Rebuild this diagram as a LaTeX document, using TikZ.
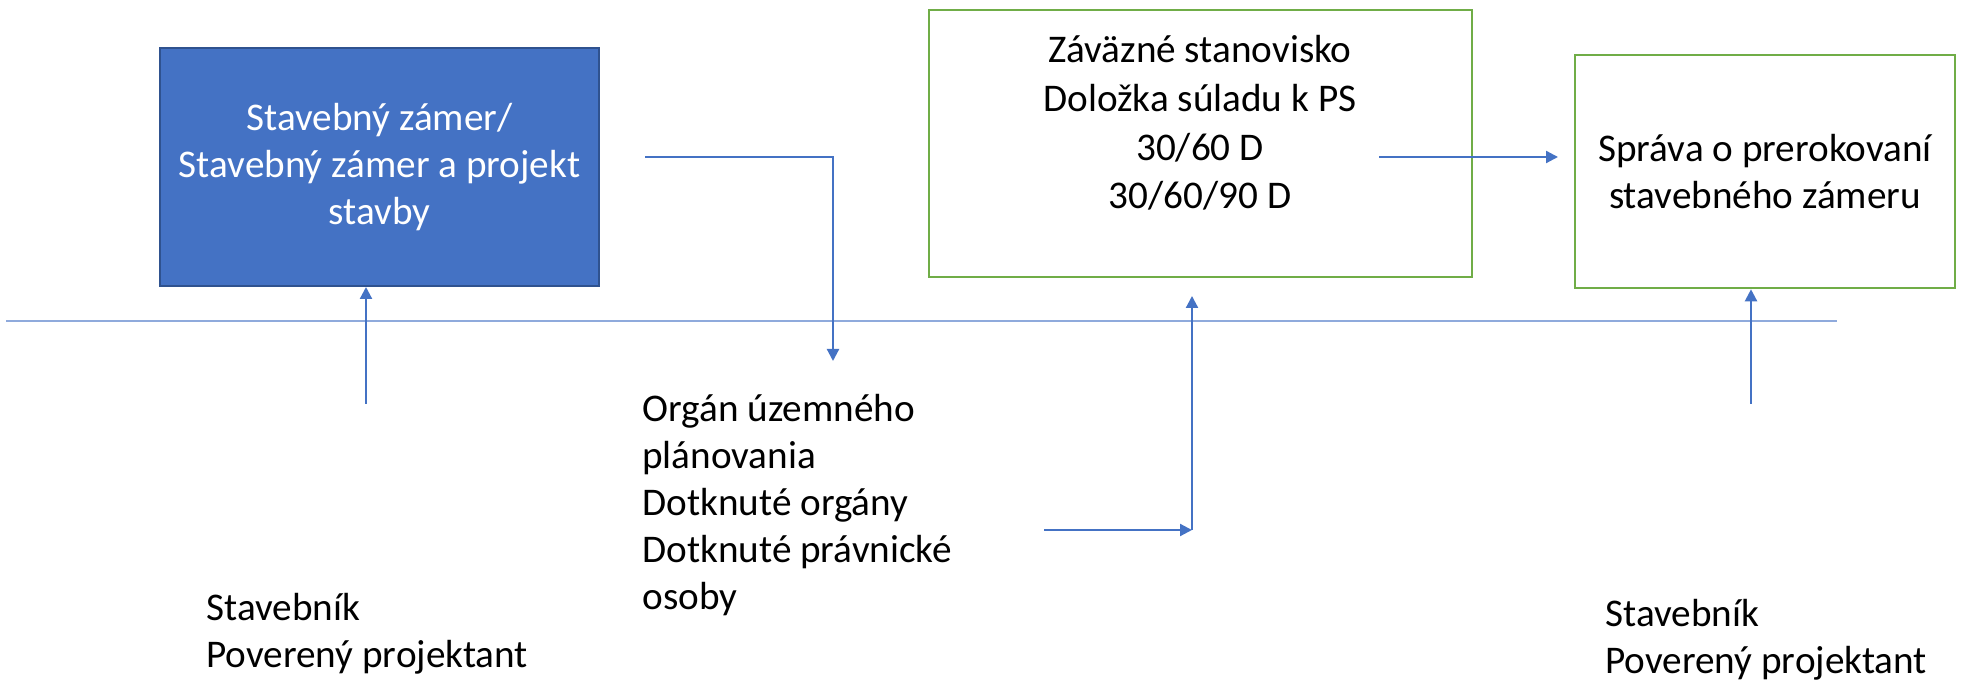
\documentclass[tikz,border=0pt]{standalone}
\usepackage{fontspec}
\setmainfont{Carlito}
\usetikzlibrary{arrows.meta}
\definecolor{accblue}{HTML}{4472C4}
\definecolor{darkblue}{HTML}{2F528F}
\definecolor{accgreen}{HTML}{70AD47}
\definecolor{lineblue}{HTML}{8FAADC}
\begin{document}
\begin{tikzpicture}[x=0.5pt,y=-0.5pt,
  every node/.style={font=\fontsize{19.6}{23.6}\selectfont},
  conn/.style={accblue, line width=1.1pt, -{Triangle[length=6pt,width=6pt]}},
  hline/.style={lineblue, line width=0.8pt},
  bluebox/.style={draw=darkblue, fill=accblue, line width=1pt, text=white, align=center, inner sep=0pt},
  greenbox/.style={draw=accgreen, line width=1.3pt, align=center, inner sep=0pt},
  label/.style={align=left, anchor=west, inner sep=0pt}
]
\useasboundingbox (0,0) rectangle (1965,683);
% boxes
\node[bluebox, minimum width=219.5pt, minimum height=119pt] (blue) at (379.5,167)
  {Stavebný zámer/\\Stavebný zámer a projekt\\stavby};
\node[greenbox, minimum width=271.5pt, minimum height=133.5pt] (g1) at (1200.5,143.5) {};
\node[align=center, inner sep=0pt, font=\fontsize{19.6}{24.4}\selectfont] (g1t) at (1200,123)
  {Záväzné stanovisko\\Doložka súladu k PS\\30/60 D\\30/60/90 D};
\node[greenbox, minimum width=190pt, minimum height=116.5pt] (g2) at (1765,171.5)
  {Správa o prerokovaní\\stavebného zámeru};
% texts
\node[label] (stl) at (206,634) {Stavebník\\Poverený projektant};
\node[label] (org) at (642,505) {Orgán územného\\plánovania\\Dotknuté orgány\\Dotknuté právnické\\osoby};
\node[label] (str) at (1605,640) {Stavebník\\Poverený projektant};
% horizontal line
\coordinate (h1) at (6,321);
\coordinate (h2) at (1837,321);
\draw[hline] (h1) -- (h2);
% connectors
\coordinate (a1s) at (366,404);
\draw[conn] (a1s) -- (a1s |- blue.south);
\coordinate (c1s) at (645,157);
\coordinate (c1e) at (833,361);
\draw[conn] (c1s) -| (c1e);
\coordinate (a2s) at (1044,530);
\coordinate (a2c) at (1192,530);
\coordinate (a2e) at (1192,296);
\draw[conn] (a2s) -- (a2c);
\draw[conn] (a2c) -- (a2e);
\coordinate (a3s) at (1379,157);
\coordinate (a3e) at (1558,157);
\draw[conn] (a3s) -- (a3e);
\coordinate (a4s) at (1751,404);
\draw[conn] (a4s) -- (a4s |- g2.south);
\end{tikzpicture}
\end{document}
